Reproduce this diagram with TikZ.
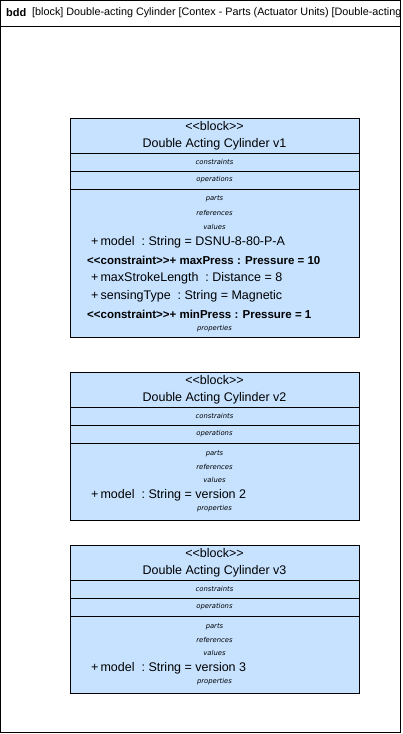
\documentclass[tikz,border=0pt]{standalone}
\usepackage{fontspec}
\setmainfont{Liberation Sans}
\newfontfamily\smallsans{DejaVu Sans}
\usepackage{xcolor}
\definecolor{blockfill}{HTML}{C6E2FF}
\usetikzlibrary{positioning}

\begin{document}
\begin{tikzpicture}[
        x=1pt, y=-1pt,
        frame/.style={draw=black, line width=1pt},
        blockbox/.style={draw=black, fill=blockfill, line width=0.8pt, inner sep=0, outer sep=0, minimum width=289pt, anchor=north west},
        headtext/.style={font=\fontsize{12.5}{17}\selectfont, align=center, text depth=1.5pt},
        compart/.style={font=\smallsans\fontsize{6.8}{8}\selectfont\itshape},
        attr/.style={font=\fontsize{12.5}{14}\selectfont, anchor=west, inner sep=0},
        cattr/.style={font=\fontsize{11.5}{13}\selectfont\bfseries, anchor=west, inner sep=0},
        every node/.style={inner sep=0},
    ]
        \def\cx{214.5}
        \def\ax{91}
        \def\bx{87}

        \useasboundingbox (0,0) rectangle (402,734);
        \draw[frame] (0.5,0.5) rectangle (400.5,732.5);
        \draw[frame] (0.5,26) -- (400.5,26);

        \node[anchor=west, font=\fontsize{11}{13}\selectfont\bfseries] (diagkind) at (6,13) {bdd};
        \node[anchor=west, font=\fontsize{10.8}{13}\selectfont] (diagname) at (32,13) {[block] Double-acting Cylinder [Contex - Parts (Actuator Units) [Double-acting};

        % block v1
        \node[blockbox, minimum height=35pt, headtext] (head1) at (70,118) {{<}{<}block{>}{>}\\Double Acting Cylinder v1};
        \node[blockbox, minimum height=18pt, compart, below=0pt of head1] (cons1) {constraints};
        \node[blockbox, minimum height=18pt, compart, below=0pt of cons1] (ops1) {operations};
        \node[blockbox, minimum height=148pt, below=0pt of ops1] (body1) {};

        \node[compart] (parts1) at (\cx,199) {parts};
        \node[compart] (refs1) at (\cx,213) {references};
        \node[compart] (vals1) at (\cx,227) {values};
        \node[attr] (model1) at (\ax,242) {+\,model\ \ :\ String = DSNU-8-80-P-A};
        \node[cattr] (maxpress1) at (\bx,260) {{<}{<}constraint{>}{>}+ maxPress : Pressure = 10};
        \node[attr] (stroke1) at (\ax,278) {+\,maxStrokeLength\ \ :\ Distance = 8};
        \node[attr] (sensing1) at (\ax,296) {+\,sensingType\ \ :\ String = Magnetic};
        \node[cattr] (minpress1) at (\bx,314) {{<}{<}constraint{>}{>}+ minPress : Pressure = 1};
        \node[compart] (props1) at (\cx,329) {properties};

        % block v2
        \node[blockbox, minimum height=35pt, headtext] (head2) at (70,372) {{<}{<}block{>}{>}\\Double Acting Cylinder v2};
        \node[blockbox, minimum height=18pt, compart, below=0pt of head2] (cons2) {constraints};
        \node[blockbox, minimum height=18pt, compart, below=0pt of cons2] (ops2) {operations};
        \node[blockbox, minimum height=77pt, below=0pt of ops2] (body2) {};

        \node[compart] (parts2) at (\cx,454) {parts};
        \node[compart] (refs2) at (\cx,467) {references};
        \node[compart] (vals2) at (\cx,480) {values};
        \node[attr] (model2) at (\ax,495) {+\,model\ \ :\ String = version 2};
        \node[compart] (props2) at (\cx,509) {properties};

        % block v3
        \node[blockbox, minimum height=35pt, headtext] (head3) at (70,545) {{<}{<}block{>}{>}\\Double Acting Cylinder v3};
        \node[blockbox, minimum height=18pt, compart, below=0pt of head3] (cons3) {constraints};
        \node[blockbox, minimum height=18pt, compart, below=0pt of cons3] (ops3) {operations};
        \node[blockbox, minimum height=77pt, below=0pt of ops3] (body3) {};

        \node[compart] (parts3) at (\cx,627) {parts};
        \node[compart] (refs3) at (\cx,640) {references};
        \node[compart] (vals3) at (\cx,653) {values};
        \node[attr] (model3) at (\ax,668) {+\,model\ \ :\ String = version 3};
        \node[compart] (props3) at (\cx,682) {properties};

    \end{tikzpicture}
\end{document}
